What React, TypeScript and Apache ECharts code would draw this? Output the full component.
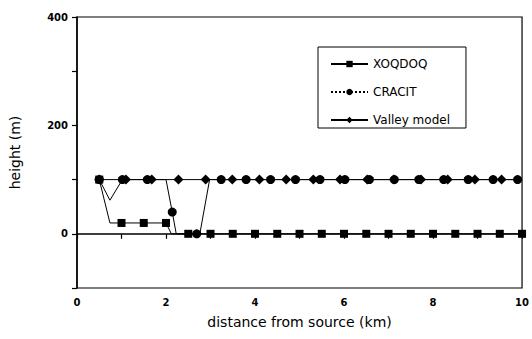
import React, { useEffect, useRef } from "react";
import * as echarts from "echarts";

// XOQDOQ (squares)
const xoqX = [0.5, 0.74, 1.0, 1.5, 2.0, 2.12, 2.5, 3.0, 3.5, 4.0, 4.5, 5.0, 5.5, 6.0, 6.5, 7.0, 7.5, 8.0, 8.5, 9.0, 9.5, 10.0];
const xoqY = [100, 20, 20, 20, 20, 0, 0, 0, 0, 0, 0, 0, 0, 0, 0, 0, 0, 0, 0, 0, 0, 0];
const xoqMarked = [true, false, true, true, true, false, true, true, true, true, true, true, true, true, true, true, true, true, true, true, true, true];

// CRACIT (circles)
const craX = [0.5, 0.74, 1.02, 1.58, 2.0, 2.14, 2.23, 2.69, 2.76, 2.98, 3.24, 3.8, 4.35, 4.91, 5.46, 6.02, 6.57, 7.13, 7.68, 8.24, 8.79, 9.35, 9.9, 10.0];
const craY = [100, 62, 100, 100, 100, 40, 0, 0, 0, 100, 100, 100, 100, 100, 100, 100, 100, 100, 100, 100, 100, 100, 100, 100];
const craMarked = [true, false, true, true, false, true, false, true, false, false, true, true, true, true, true, true, true, true, true, true, true, true, true, false];

// Valley model (diamonds)
const valX = [0.5, 1.1, 1.68, 2.28, 2.89, 3.49, 4.1, 4.7, 5.31, 5.91, 6.52, 7.12, 7.73, 8.33, 8.94, 9.54, 10.0];
const valY = [100, 100, 100, 100, 100, 100, 100, 100, 100, 100, 100, 100, 100, 100, 100, 100, 100];
const valMarked = [true, true, true, true, true, true, true, true, true, true, true, true, true, true, true, true, false];

const seriesNames = ["XOQDOQ", "CRACIT", "Valley model"];
const yLabelled = [400, 200, 0];
const xLabelled = [0, 2, 4, 6, 8, 10];

function build(xs: number[], ys: number[], marked: boolean[]) {
  return xs.map((x, i) => (marked[i] ? [x, ys[i]] : { value: [x, ys[i]], symbol: "none" }));
}

const FONT = "DejaVu Sans, Liberation Sans, sans-serif";

export default function App() {
  const ref = useRef<HTMLDivElement>(null);
  useEffect(() => {
    if (!ref.current) return;
    const chart = echarts.init(ref.current, undefined, { renderer: "svg" });
    const lineCommon = {
      type: "line",
      color: "#000",
      lineStyle: { color: "#000", width: 1 },
      itemStyle: { color: "#000" },
      emphasis: { disabled: true },
    };
    chart.setOption({
      animation: false,
      backgroundColor: "#fff",
      grid: {
        left: 77,
        right: 9,
        top: 17,
        bottom: 51,
        show: true,
        borderColor: "#000",
        borderWidth: 1.2,
      },
      legend: {
        orient: "vertical",
        left: 318,
        top: 47,
        padding: [11, 16, 2, 12],
        itemGap: 16,
        itemWidth: 37,
        itemHeight: 8,
        borderColor: "#000",
        borderWidth: 1,
        textStyle: { fontSize: 12, fontFamily: FONT, color: "#000" },
        data: [
          { name: seriesNames[0] },
          { name: seriesNames[1], lineStyle: { type: "dotted" } },
          { name: seriesNames[2] },
        ],
      },
      xAxis: {
        type: "value",
        min: 0,
        max: 10,
        interval: 1,
        name: "distance from source (km)",
        nameLocation: "middle",
        nameGap: 27,
        nameTextStyle: { fontSize: 14, fontFamily: FONT, color: "#000" },
        axisLine: { show: true, lineStyle: { color: "#000", width: 1.5 } },
        axisTick: { show: true, length: 5, lineStyle: { color: "#000", width: 1.2 } },
        axisLabel: {
          fontSize: 10,
          fontWeight: "bold",
          fontFamily: FONT,
          color: "#000",
          margin: 9,
          formatter: (v: number) => (xLabelled.includes(v) ? String(v) : ""),
        },
        splitLine: { show: false },
      },
      yAxis: {
        type: "value",
        min: -100,
        max: 400,
        interval: 100,
        name: "height (m)",
        nameLocation: "middle",
        nameGap: 55,
        nameTextStyle: { fontSize: 14, fontFamily: FONT, color: "#000" },
        axisLine: { show: true, lineStyle: { color: "#000", width: 1.5 } },
        axisTick: { show: true, length: 5, lineStyle: { color: "#000", width: 1.2 } },
        axisLabel: {
          fontSize: 10,
          fontWeight: "bold",
          fontFamily: FONT,
          color: "#000",
          margin: 9,
          formatter: (v: number) => (yLabelled.includes(v) ? String(v) : ""),
        },
        splitLine: { show: false },
      },
      series: [
        {
          ...lineCommon,
          name: seriesNames[0],
          symbol: "rect",
          symbolSize: 8,
          data: build(xoqX, xoqY, xoqMarked),
          z: 3,
        },
        {
          ...lineCommon,
          name: seriesNames[1],
          symbol: "circle",
          symbolSize: 9,
          data: build(craX, craY, craMarked),
          z: 4,
        },
        {
          ...lineCommon,
          name: seriesNames[2],
          symbol: "diamond",
          symbolSize: 10,
          data: build(valX, valY, valMarked),
          z: 5,
        },
      ],
    });
    return () => chart.dispose();
  }, []);
  return (
    <div
      ref={ref}
      style={{ position: "fixed", left: 0, top: 0, width: 532, height: 339 }}
    />
  );
}
